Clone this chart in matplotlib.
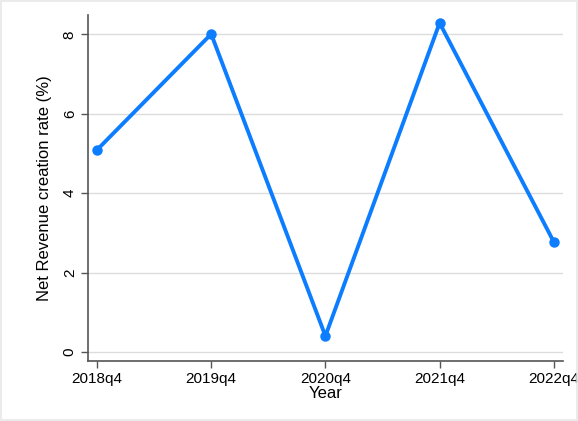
import matplotlib
matplotlib.use('Agg')
import matplotlib.pyplot as plt
from matplotlib.patches import Rectangle

quarters = ['2018q4', '2019q4', '2020q4', '2021q4', '2022q4']
rate = [5.09, 8.01, 0.40, 8.29, 2.77]

plt.rcParams['font.family'] = ['Liberation Sans', 'DejaVu Sans']

fig = plt.figure(figsize=(5.78, 4.21), dpi=100)
fig.patches.append(Rectangle((0.002, 0.002), 0.996, 0.996, transform=fig.transFigure,
                             fill=False, edgecolor='#e8e8e8', linewidth=1.2))
ax = fig.add_axes([0.1522, 0.1425, 0.8218, 0.8219])

x = range(len(quarters))
ax.plot(x, rate, color='#0c7dff', linewidth=2.8, marker='o', markersize=6.5, zorder=3)

ax.set_xlim(-0.079, 4.08)
ax.set_ylim(-0.23, 8.49)
ax.set_xticks(list(x))
ax.set_xticklabels(quarters, fontsize=11)
ax.set_yticks([0, 2, 4, 6, 8])
ax.set_yticklabels(['0', '2', '4', '6', '8'], fontsize=11, rotation=90, va='center')
ax.grid(axis='y', color='#dcdcdc', linewidth=1)
ax.set_axisbelow(True)
for s in ['top', 'right']:
    ax.spines[s].set_visible(False)
for s in ['left', 'bottom']:
    ax.spines[s].set_color('#555555')
    ax.spines[s].set_linewidth(1.2)
ax.tick_params(color='#555555', length=5, width=1, pad=3)

ax.set_xlabel('Year', fontsize=12, labelpad=0)
ax.set_ylabel('Net Revenue creation rate (%)', fontsize=12, labelpad=8)

fig.savefig('out.png', dpi=100)
